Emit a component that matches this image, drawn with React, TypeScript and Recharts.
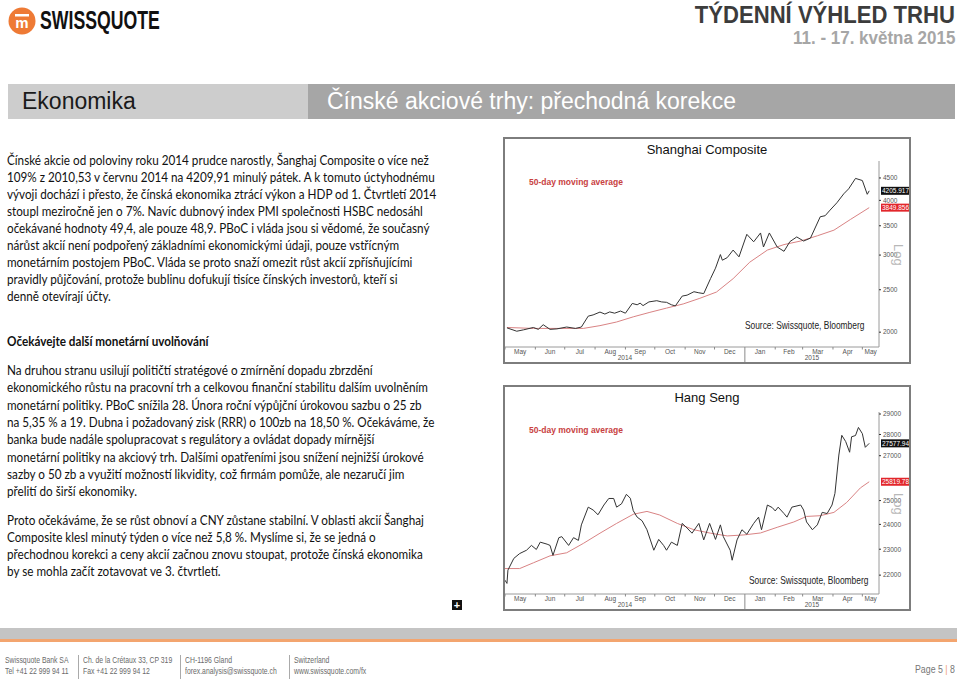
import React from "react";
import { LineChart, Line, XAxis, YAxis, ReferenceLine } from "recharts";

const DAY_MS = 86400000;
const dayOf = (d: string) => Date.parse(d) / DAY_MS;

// shared time axis
const AXIS_FROM = "2014-05-01";
const AXIS_TO = "2015-05-18";
const YEAR_SPLIT = "2015-01-01";
const MONTH_STARTS = [
  "2014-05-01", "2014-06-01", "2014-07-01", "2014-08-01", "2014-09-01", "2014-10-01", "2014-11-01",
  "2014-12-01", "2015-01-01", "2015-02-01", "2015-03-01", "2015-04-01", "2015-05-01",
];
const MONTH_LABELS = ["May", "Jun", "Jul", "Aug", "Sep", "Oct", "Nov", "Dec", "Jan", "Feb", "Mar", "Apr", "May"];
const YEAR_LABELS = ["2014", "2015"];

// Shanghai Composite
const SH_DATES = [
  "2014-05-03", "2014-05-13", "2014-05-20", "2014-05-30", "2014-06-04", "2014-06-09", "2014-06-16",
  "2014-06-23", "2014-07-03", "2014-07-12", "2014-07-18", "2014-07-25", "2014-07-30", "2014-08-06",
  "2014-08-11", "2014-08-16", "2014-08-21", "2014-08-27", "2014-09-01", "2014-09-08", "2014-09-13",
  "2014-09-16", "2014-09-19", "2014-09-25", "2014-10-03", "2014-10-08", "2014-10-13", "2014-10-18",
  "2014-10-22", "2014-10-29", "2014-11-03", "2014-11-10", "2014-11-15", "2014-11-20", "2014-11-27",
  "2014-12-02", "2014-12-07", "2014-12-09", "2014-12-14", "2014-12-20", "2014-12-26", "2015-01-03",
  "2015-01-10", "2015-01-17", "2015-01-20", "2015-01-26", "2015-02-03", "2015-02-10", "2015-02-16",
  "2015-02-23", "2015-03-02", "2015-03-09", "2015-03-19", "2015-03-24", "2015-03-29", "2015-04-05",
  "2015-04-12", "2015-04-17", "2015-04-24", "2015-05-01", "2015-05-06", "2015-05-08",
];
const SH_CLOSE = [
  2046, 2010, 2025, 2050, 2030, 2080, 2030,
  2035, 2055, 2040, 2055, 2176, 2190, 2223,
  2200, 2225, 2210, 2235, 2210, 2326, 2310,
  2330, 2300, 2345, 2360, 2345, 2340, 2310,
  2296, 2418, 2430, 2474, 2460, 2450, 2653,
  2800, 3008, 2920, 2960, 3080, 2972, 3346,
  3217, 3370, 3130, 3370, 3130, 3060, 3220,
  3300, 3230, 3280, 3670, 3690, 3800, 3950,
  4140, 4250, 4490, 4440, 4130, 4205.917,
];
const SH_MA_DATES = [
  "2014-05-03", "2014-05-30", "2014-07-20", "2014-08-06", "2014-08-23", "2014-09-09", "2014-09-26",
  "2014-10-13", "2014-10-30", "2014-11-16", "2014-12-03", "2014-12-20", "2015-01-06", "2015-01-24",
  "2015-02-10", "2015-02-27", "2015-03-16", "2015-04-02", "2015-04-19", "2015-05-08",
];
const SH_MA = [
  2050, 2040, 2040, 2070, 2110, 2168, 2220,
  2270, 2320, 2390, 2470, 2650, 2890, 3080,
  3170, 3230, 3320, 3420, 3620, 3849.856,
];
const SH_TICKS = [2000, 2500, 3000, 3500, 4000, 4500];

// Hang Seng
const HS_DATES = [
  "2014-05-01", "2014-05-03", "2014-05-04", "2014-05-10", "2014-05-16", "2014-05-23", "2014-05-28",
  "2014-06-02", "2014-06-06", "2014-06-13", "2014-06-16", "2014-06-19", "2014-06-25", "2014-06-28",
  "2014-07-05", "2014-07-10", "2014-07-15", "2014-07-18", "2014-07-25", "2014-07-30", "2014-08-04",
  "2014-08-10", "2014-08-15", "2014-08-20", "2014-08-23", "2014-08-28", "2014-09-02", "2014-09-06",
  "2014-09-09", "2014-09-13", "2014-09-18", "2014-09-23", "2014-09-30", "2014-10-05", "2014-10-10",
  "2014-10-13", "2014-10-18", "2014-10-24", "2014-10-29", "2014-11-03", "2014-11-08", "2014-11-15",
  "2014-11-20", "2014-11-26", "2014-12-02", "2014-12-07", "2014-12-10", "2014-12-17", "2014-12-19",
  "2014-12-24", "2014-12-29", "2015-01-03", "2015-01-10", "2015-01-15", "2015-01-18", "2015-01-24",
  "2015-01-29", "2015-02-01", "2015-02-04", "2015-02-10", "2015-02-13", "2015-02-18", "2015-02-27",
  "2015-03-02", "2015-03-05", "2015-03-11", "2015-03-16", "2015-03-21", "2015-03-26", "2015-03-31",
  "2015-04-03", "2015-04-07", "2015-04-10", "2015-04-14", "2015-04-18", "2015-04-20", "2015-04-24",
  "2015-04-27", "2015-05-01", "2015-05-04", "2015-05-08",
];
const HS_CLOSE = [
  21810, 21690, 22190, 22640, 22830, 22960, 23150,
  22990, 23280, 23200, 23150, 22760, 23460, 23500,
  23150, 23460, 23350, 23980, 24720, 24600, 24400,
  24810, 25090, 25090, 24720, 24860, 25270, 25100,
  24570, 24300, 24150, 23780, 22960, 23390, 23150,
  22960, 23280, 23150, 24040, 23850, 23640, 24040,
  23370, 24040, 23390, 23980, 23500, 22960, 22570,
  23370, 23780, 23600, 24040, 24300, 23780, 24810,
  24700, 24560, 24720, 24450, 24300, 24720, 24810,
  24600, 24100, 23780, 23980, 24500, 24450, 24810,
  25310, 27030, 27960, 27660, 27160, 27890, 27950,
  28340, 28040, 27390, 27577.94,
];
const HS_MA_DATES = [
  "2014-05-01", "2014-05-16", "2014-05-30", "2014-06-16", "2014-07-03", "2014-07-20", "2014-08-06",
  "2014-08-23", "2014-09-09", "2014-09-23", "2014-10-06", "2014-10-24", "2014-11-10", "2014-11-27",
  "2014-12-14", "2014-12-31", "2015-01-17", "2015-02-03", "2015-02-20", "2015-03-05", "2015-03-19",
  "2015-04-02", "2015-04-15", "2015-04-29", "2015-05-08",
];
const HS_MA = [
  22250, 22250, 22470, 22740, 22860, 23230, 23640,
  24040, 24420, 24540, 24390, 24040, 23780, 23640,
  23530, 23570, 23650, 23880, 24100, 24330, 24360,
  24500, 24920, 25550, 25819.78,
];
const HS_TICKS = [22000, 23000, 24000, 25000, 27000, 28000, 29000];

const P1 = [
  "Čínské akcie od poloviny roku 2014 prudce narostly, Šanghaj Composite o více než",
  "109% z 2010,53 v červnu 2014 na 4209,91 minulý pátek. A k tomuto úctyhodnému",
  "vývoji dochází i přesto, že čínská ekonomika ztrácí výkon a HDP od 1. Čtvrtletí 2014",
  "stoupl meziročně jen o 7%. Navíc dubnový index PMI společnosti HSBC nedosáhl",
  "očekávané hodnoty 49,4, ale pouze 48,9. PBoC i vláda jsou si vědomé, že současný",
  "nárůst akcií není podpořený základními ekonomickými údaji, pouze vstřícným",
  "monetárním postojem PBoC. Vláda se proto snaží omezit růst akcií zpřísňujícími",
  "pravidly půjčování, protože bublinu dofukují tisíce čínských investorů, kteří si",
  "denně otevírají účty.",
];
const H2 = "Očekávejte další monetární uvolňování";
const P2 = [
  "Na druhou stranu usilují političtí stratégové o zmírnění dopadu zbrzdění",
  "ekonomického růstu na pracovní trh a celkovou finanční stabilitu dalším uvolněním",
  "monetární politiky. PBoC snížila 28. Února roční výpůjční úrokovou sazbu o 25 zb",
  "na 5,35 % a 19. Dubna i požadovaný zisk (RRR) o 100zb na 18,50 %. Očekáváme, že",
  "banka bude nadále spolupracovat s regulátory a ovládat dopady mírnější",
  "monetární politiky na akciový trh. Dalšími opatřeními jsou snížení nejnižší úrokové",
  "sazby o 50 zb a využití možností likvidity, což firmám pomůže, ale nezaručí jim",
  "přelití do širší ekonomiky.",
];
const P3 = [
  "Proto očekáváme, že se růst obnoví a CNY zůstane stabilní. V oblasti akcií Šanghaj",
  "Composite klesl minutý týden o více než 5,8 %. Myslíme si, že se jedná o",
  "přechodnou korekci a ceny akcií začnou znovu stoupat, protože čínská ekonomika",
  "by se mohla začít zotavovat ve 3. čtvrtletí.",
];

const ARIAL = "'Liberation Sans', Arial, sans-serif";
const BODY_FONT = "Lato, 'Open Sans', sans-serif";
const BODY_SCALE = 0.9;

const xDomain = [dayOf(AXIS_FROM), dayOf(AXIS_TO)];
const monthTicks = MONTH_STARTS.map(dayOf);
const midTicks = monthTicks.map((t, i) => (t + (i < monthTicks.length - 1 ? monthTicks[i + 1] : xDomain[1])) / 2);
const yearTicks = [(xDomain[0] + dayOf(YEAR_SPLIT)) / 2, (dayOf(YEAR_SPLIT) + xDomain[1]) / 2];
const allTicks = [...monthTicks, ...midTicks, ...yearTicks].sort((a, b) => a - b);

const toPoints = (dates: string[], vals: number[]) => dates.map((d, i) => ({ t: dayOf(d), v: vals[i] }));

// one axis draws month-start marks, month names and year names
const TimeTick = (p: any) => {
  const v = p.payload.value;
  const ms = monthTicks.indexOf(v);
  if (ms >= 0) {
    const split = v === dayOf(YEAR_SPLIT);
    return <line x1={p.x} x2={p.x} y1={p.y} y2={p.y + (split ? 16 : 2.5)} stroke="#8a8a8a" strokeWidth={1} />;
  }
  const mi = midTicks.indexOf(v);
  if (mi >= 0) {
    return (
      <text x={p.x} y={p.y + 6.5} textAnchor="middle" fontSize={6.5} fill="#555" fontFamily={ARIAL}>
        {MONTH_LABELS[mi]}
      </text>
    );
  }
  const yi = yearTicks.indexOf(v);
  return (
    <text x={p.x} y={p.y + 13} textAnchor="middle" fontSize={6.5} fill="#555" fontFamily={ARIAL}>
      {YEAR_LABELS[yi]}
    </text>
  );
};

const badge = (text: string, fill: string) => (props: any) => {
  const vb = props.viewBox;
  const x = vb.x + vb.width + 2;
  return (
    <g>
      <rect x={x} y={vb.y - 4} width={29} height={8} fill={fill} />
      <text x={x + 14.5} y={vb.y + 2.5} textAnchor="middle" fontSize={6.5} fill="#fff" fontFamily={ARIAL}>
        {text}
      </text>
    </g>
  );
};

interface ChartProps {
  title: string;
  top: number;
  height: number;
  padTop: number;
  close: { t: number; v: number }[];
  ma: { t: number; v: number }[];
  yDomain: number[];
  yTicks: number[];
  last: number;
  lastText: string;
  lastMa: number;
  lastMaText: string;
  logTop: number;
  sourceTop: number;
  sourceRight: number;
}

function IndexChart(c: ChartProps) {
  const innerH = c.height - 4;
  return (
    <div
      style={{
        position: "absolute", left: 503, top: c.top, width: 408, height: c.height,
        border: "2px solid #7d7d7d", boxSizing: "border-box", background: "#fff",
      }}
    >
      <div style={{ position: "absolute", left: 0, width: 404, top: 3, textAlign: "center", fontFamily: ARIAL, fontSize: 13, color: "#111" }}>
        {c.title}
      </div>
      <div style={{ position: "absolute", left: 24, top: 38, fontFamily: ARIAL, fontSize: 8.5, fontWeight: "bold", color: "#c8413f" }}>
        50-day moving average
      </div>
      <div style={{
        position: "absolute", right: c.sourceRight, top: c.sourceTop, fontFamily: ARIAL, fontSize: 10.5, color: "#222",
        whiteSpace: "nowrap", transform: "scaleX(0.8)", transformOrigin: "right center",
      }}>
        Source: Swissquote, Bloomberg
      </div>
      <LineChart width={404} height={innerH} margin={{ top: c.padTop, right: 0, bottom: 0, left: 0 }}>
        <XAxis type="number" dataKey="t" domain={xDomain} allowDataOverflow ticks={allTicks} interval={0}
          height={15} tickSize={0} tickMargin={0} tickLine={false} axisLine={{ stroke: "#9a9a9a" }} tick={<TimeTick />} />
        <YAxis orientation="right" scale="log" domain={c.yDomain} allowDataOverflow ticks={c.yTicks} width={30}
          tickSize={2} tickMargin={2} axisLine={{ stroke: "#9a9a9a" }} tickLine={{ stroke: "#333" }}
          tick={{ fontSize: 6.5, fill: "#555", fontFamily: ARIAL }} interval={0} />
        <Line data={c.ma} dataKey="v" type="linear" stroke="#d98384" strokeWidth={1} dot={false} isAnimationActive={false} />
        <Line data={c.close} dataKey="v" type="linear" stroke="#333" strokeWidth={1} dot={false} isAnimationActive={false} />
        <ReferenceLine y={c.last} stroke="none" label={badge(c.lastText, "#111")} />
        <ReferenceLine y={c.lastMa} stroke="none" label={badge(c.lastMaText, "#e2262b")} />
      </LineChart>
      <div style={{ position: "absolute", left: 401, top: c.logTop, transform: "rotate(90deg)", transformOrigin: "left top", fontFamily: ARIAL, fontSize: 13, color: "#b8b8b8" }}>
        Log
      </div>
    </div>
  );
}

function TextLines({ lines, top, step, bold }: { lines: string[]; top: number; step: number; bold?: boolean }) {
  return (
    <>
      {lines.map((l, i) => (
        <div key={i} style={{
          position: "absolute", left: 7, top: top + i * step - 9, height: 18, lineHeight: "18px", whiteSpace: "nowrap",
          fontFamily: BODY_FONT, fontSize: 13, color: "#111", fontWeight: bold ? "bold" : "normal",
          transform: `scaleX(${BODY_SCALE})`, transformOrigin: "left center",
        }}>
          {l}
        </div>
      ))}
    </>
  );
}

const FOOTER = [
  { x: 5, a: "Swissquote Bank SA", b: "Tel +41 22 999 94 11" },
  { x: 83, a: "Ch. de la Crétaux 33, CP 319", b: "Fax +41 22 999 94 12" },
  { x: 185, a: "CH-1196 Gland", b: "forex.analysis@swissquote.ch" },
  { x: 294, a: "Switzerland", b: "www.swissquote.com/fx" },
];

export default function App() {
  return (
    <div style={{ position: "absolute", left: 0, top: 0, width: 960, height: 681, overflow: "hidden", background: "#fff" }}>
      {/* header */}
      <svg style={{ position: "absolute", left: 8, top: 7 }} width={28} height={28}>
        <circle cx={14} cy={14} r={13.5} fill="#ee7a35" />
        <rect x={7} y={7} width={14} height={2.5} fill="#fff" />
        <text x={14} y={21} textAnchor="middle" fontSize={15} fontWeight="bold" fill="#fff" fontFamily={ARIAL}>m</text>
      </svg>
      <div style={{
        position: "absolute", left: 40, top: 5, fontFamily: ARIAL, fontWeight: "bold", fontSize: 26, color: "#111",
        whiteSpace: "nowrap", transform: "scaleX(0.68)", transformOrigin: "left center",
      }}>
        SWISSQUOTE
      </div>
      <div style={{
        position: "absolute", right: 5, top: 2, fontFamily: ARIAL, fontWeight: "bold", fontSize: 23, color: "#3c3c3c",
        whiteSpace: "nowrap", transform: "scaleX(0.96)", transformOrigin: "right center",
      }}>
        TÝDENNÍ VÝHLED TRHU
      </div>
      <div style={{
        position: "absolute", right: 5, top: 28, fontFamily: ARIAL, fontWeight: "bold", fontSize: 17.5, color: "#a6a6a6",
        whiteSpace: "nowrap", transform: "scaleX(0.97)", transformOrigin: "right center",
      }}>
        11. - 17. května 2015
      </div>

      {/* section bar */}
      <div style={{ position: "absolute", left: 8, top: 84, width: 300, height: 35, background: "#cdcdcd" }} />
      <div style={{ position: "absolute", left: 308, top: 84, width: 647, height: 35, background: "#a6a6a6" }} />
      <div style={{ position: "absolute", left: 22, top: 88, fontFamily: ARIAL, fontSize: 23, color: "#1a1a1a" }}>Ekonomika</div>
      <div style={{ position: "absolute", left: 327, top: 88, fontFamily: ARIAL, fontSize: 23, color: "#fff" }}>
        Čínské akciové trhy: přechodná korekce
      </div>

      {/* body text */}
      <TextLines lines={P1} top={160} step={17} />
      <TextLines lines={[H2]} top={341} step={17} bold />
      <TextLines lines={P2} top={370} step={17.3} />
      <TextLines lines={P3} top={520} step={17} />

      {/* charts */}
      <IndexChart
        title="Shanghai Composite" top={137} height={227} padTop={22}
        close={toPoints(SH_DATES, SH_CLOSE)} ma={toPoints(SH_MA_DATES, SH_MA)}
        yDomain={[1850, 4920]} yTicks={SH_TICKS}
        last={4205.917} lastText="4205.917" lastMa={3849.856} lastMaText="3849.856"
        logTop={105} sourceTop={180} sourceRight={45}
      />
      <IndexChart
        title="Hang Seng" top={385} height={226} padTop={25}
        close={toPoints(HS_DATES, HS_CLOSE)} ma={toPoints(HS_MA_DATES, HS_MA)}
        yDomain={[21300, 29100]} yTicks={HS_TICKS}
        last={27577.94} lastText="27577.94" lastMa={25819.78} lastMaText="25819.78"
        logTop={106} sourceTop={187} sourceRight={41}
      />

      {/* plus icon */}
      <div style={{ position: "absolute", left: 452, top: 600, width: 10, height: 10, background: "#111", color: "#fff", fontFamily: ARIAL, fontSize: 11, lineHeight: "10px", textAlign: "center", fontWeight: "bold" }}>+</div>

      {/* footer */}
      <div style={{ position: "absolute", left: 0, top: 628, width: 957, height: 11, background: "#c4c4c4" }} />
      <div style={{ position: "absolute", left: 0, top: 639, width: 957, height: 3, background: "#f3a56f" }} />
      {FOOTER.map((f, i) => (
        <div key={i} style={{
          position: "absolute", left: f.x, top: 655, fontFamily: ARIAL, fontSize: 9, lineHeight: "11px", color: "#6a6a6a",
          whiteSpace: "nowrap", transform: "scaleX(0.76)", transformOrigin: "left center",
        }}>
          <div>{f.a}</div>
          <div>{f.b}</div>
        </div>
      ))}
      {[78, 180, 289].map((x) => (
        <div key={x} style={{ position: "absolute", left: x, top: 655, width: 1, height: 24, background: "#aaa" }} />
      ))}
      <div style={{
        position: "absolute", right: 5, top: 663, fontFamily: ARIAL, fontSize: 11, color: "#777",
        whiteSpace: "nowrap", transform: "scaleX(0.8)", transformOrigin: "right center",
      }}>
        Page 5 <span style={{ color: "#f0a070" }}>|</span> 8
      </div>
    </div>
  );
}
